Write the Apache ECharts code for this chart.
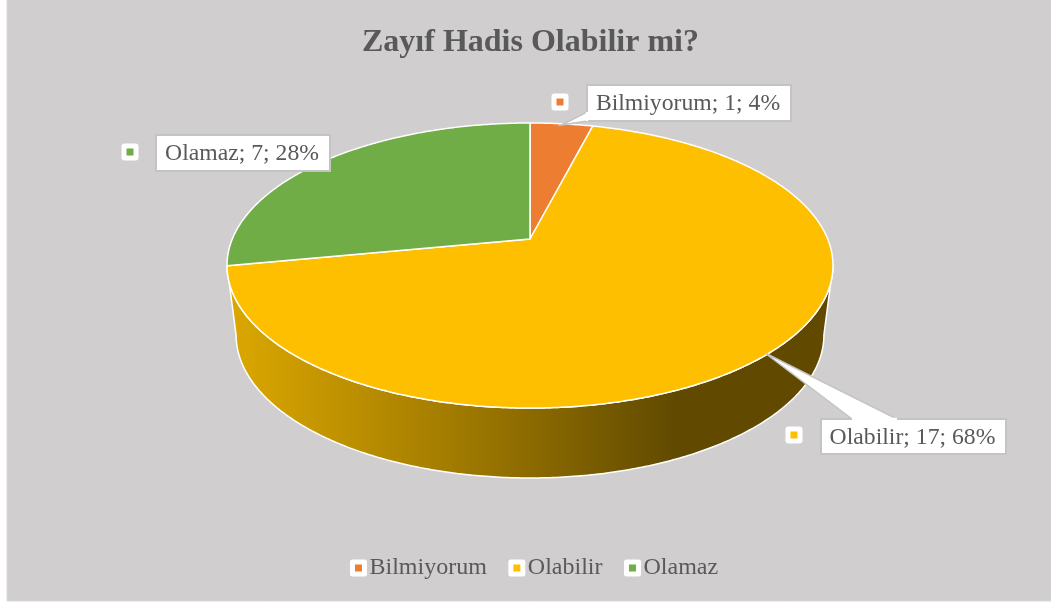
<!DOCTYPE html>
<html>
<head>
<meta charset="utf-8">
<style>html,body{margin:0;padding:0;background:#fff}#c{width:1051px;height:604px}</style>
<script src="https://cdn.jsdelivr.net/npm/echarts@6/dist/echarts.min.js"></script>
</head>
<body>
<div id="c"></div>
<script>
var categories = ['Bilmiyorum', 'Olabilir', 'Olamaz'];
var values = [1, 17, 7];
var percents = [4, 68, 28];
var colors = ['#ED7D31', '#FDBF00', '#70AD47'];

var FONT = '"Liberation Serif","Times New Roman",serif';
var TEXT = '#595959', EDGE = '#C4C4C4';
// perspective disc
var AX = 530, AY = 239, A = 297.7, B = 137.6, K = 0.186;
var ELLIPSE_CY = 265.5, DEPTH = 69.5, SHRINK_X = 0.97, SHRINK_Y = 1.003;
var callouts = [
  {box: [587, 85, 204, 36], key: [560, 102], tail: [[561.5, 125], [587, 112], [587, 121]]},
  {box: [821, 419, 185, 35], key: [794, 435], tail: [[765, 353], [852, 419], [897, 419]]},
  {box: [156, 135, 174, 36], key: [130, 152], tail: null}
];
var total = values.reduce(function (a, b) { return a + b; }, 0);

function top3d(t) {
  var w = 1 + K * Math.cos(t);
  return [AX + A * Math.sin(t) / w, AY - B * Math.cos(t) / w];
}
function bottom3d(t) {
  var p = top3d(t);
  return [AX + SHRINK_X * (p[0] - AX), ELLIPSE_CY + DEPTH + SHRINK_Y * (p[1] - ELLIPSE_CY)];
}
function arc(fn, t0, t1) {
  var n = Math.max(2, Math.ceil((t1 - t0) / 0.01)), pts = [];
  for (var i = 0; i <= n; i++) pts.push(fn(t0 + (t1 - t0) * i / n));
  return pts;
}

function renderSlice(index) {
  return function (params, api) {
    var before = 0;
    for (var i = 0; i < index; i++) before += values[i];
    var v = api.value(0);
    var t0 = before / total * 2 * Math.PI, t1 = (before + v) / total * 2 * Math.PI;
    var color = api.visual('color');
    var children = [];

    // front wall: only the part of the arc below the ellipse centre line
    var front = [];
    arc(function (t) { return t; }, t0, t1).forEach(function (t) {
      if (top3d(t)[1] >= ELLIPSE_CY - 0.5) front.push(t);
    });
    if (front.length > 1) {
      var upper = front.map(top3d), lower = front.map(bottom3d).reverse();
      children.push({
        type: 'polygon', z2: 1,
        shape: {points: upper.concat(lower)},
        style: {
          stroke: '#fff', lineWidth: 1.5,
          fill: new echarts.graphic.LinearGradient(0, 0, 1, 0, [
            {offset: 0, color: '#DCA800'},
            {offset: 0.32, color: '#AB8200'},
            {offset: 0.74, color: '#614A00'},
            {offset: 1, color: '#614A00'}
          ])
        }
      });
    }
    // top face
    children.push({
      type: 'polygon', z2: 2,
      shape: {points: [[AX, AY]].concat(arc(top3d, t0, t1))},
      style: {fill: color, stroke: '#fff', lineWidth: 1.5, lineJoin: 'round'}
    });

    // callout
    var c = callouts[index];
    if (c.tail) {
      children.push({
        type: 'polygon', z2: 10, shape: {points: c.tail},
        style: {fill: '#fff', stroke: EDGE, lineWidth: 1.5}
      });
    }
    children.push({
      type: 'rect', z2: 11,
      shape: {x: c.box[0], y: c.box[1], width: c.box[2], height: c.box[3]},
      style: {fill: '#fff', stroke: EDGE, lineWidth: 2}
    });
    if (c.tail) {
      // hide the box border where the tail joins it
      var a = c.tail[1], b = c.tail[2];
      children.push({
        type: 'polyline', z2: 12, shape: {points: [a, b]},
        style: {stroke: '#fff', lineWidth: 2.4, fill: null}
      });
    }
    children.push({
      type: 'text', z2: 13,
      style: {
        x: c.box[0] + c.box[2] / 2 - 1, y: c.box[1] + c.box[3] / 2 + 1,
        text: categories[index] + '; ' + v + '; ' + percents[index] + '%',
        align: 'center', verticalAlign: 'middle',
        font: '23.7px ' + FONT, fill: TEXT
      }
    });
    children.push({
      type: 'rect', z2: 13,
      shape: {x: c.key[0] - 8.5, y: c.key[1] - 8.5, width: 17, height: 17, r: 3},
      style: {fill: '#fff'}
    });
    children.push({
      type: 'rect', z2: 14,
      shape: {x: c.key[0] - 3.5, y: c.key[1] - 3.5, width: 7, height: 7},
      style: {fill: color}
    });
    return {type: 'group', children: children};
  };
}

var chart = echarts.init(document.getElementById('c'), null, {renderer: 'canvas'});
chart.setOption({
  animation: false,
  graphic: [{
    type: 'rect', z: -10, silent: true,
    shape: {x: 7, y: -2, width: 1050, height: 603},
    style: {fill: '#D0CECE', stroke: '#DADADA', lineWidth: 1}
  }],
  title: {
    text: 'Zayıf Hadis Olabilir mi?',
    left: 357, top: 20,
    textStyle: {fontFamily: FONT, fontWeight: 'bold', fontSize: 32, color: TEXT, lineHeight: 36}
  },
  legend: {
    left: 345, top: 551, itemWidth: 12, itemHeight: 12, itemGap: 21.5,
    icon: 'rect',
    data: categories,
    itemStyle: {borderColor: '#fff', borderWidth: 5, borderJoin: 'round'},
    textStyle: {fontFamily: FONT, fontSize: 24, color: TEXT, lineHeight: 24}
  },
  series: categories.map(function (name, i) {
    return {
      type: 'custom', name: name, coordinateSystem: 'none',
      itemStyle: {color: colors[i]},
      renderItem: renderSlice(i),
      data: [[values[i]]]
    };
  })
});
</script>
</body>
</html>
